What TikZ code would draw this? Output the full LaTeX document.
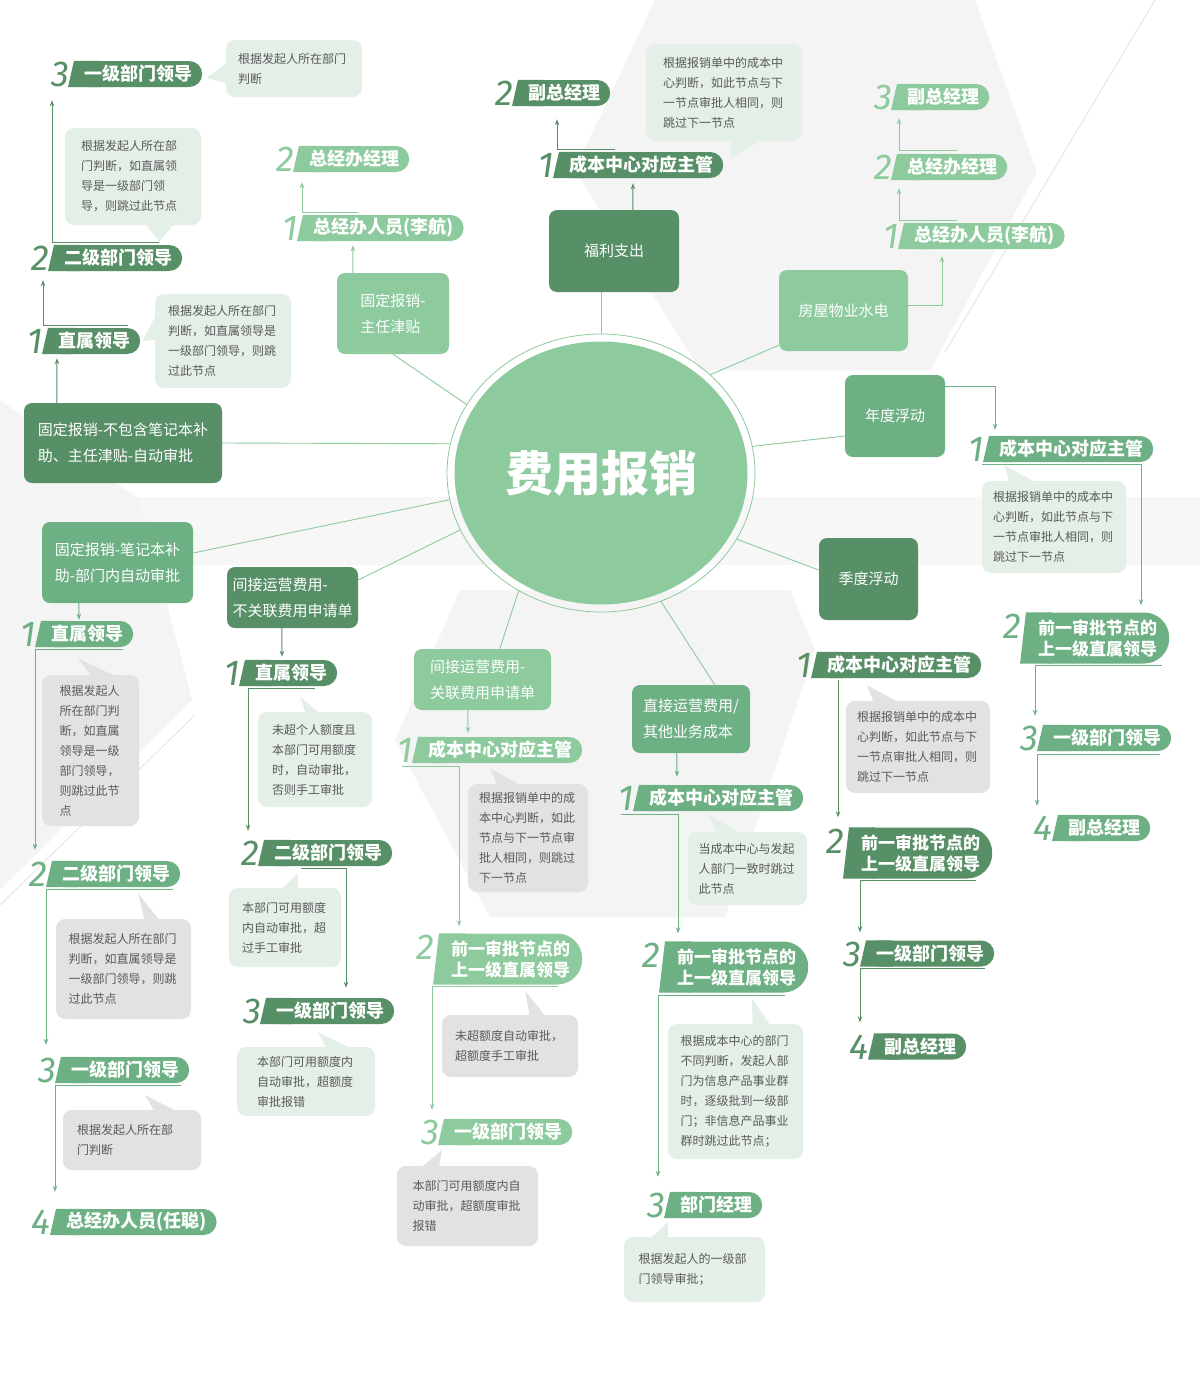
\documentclass[tikz,border=0pt]{standalone}
\usepackage{fontspec}
\setmainfont{Noto Sans CJK SC}
\newfontfamily\numfont{Fira Sans}
\usepackage{xcolor}
\usepackage{tikz}
\usetikzlibrary{positioning, arrows.meta, shapes.geometric, calc, backgrounds}
\pgfdeclarelayer{deco}
\pgfsetlayers{deco,background,main}
\definecolor{gdark}{HTML}{578F66}
\definecolor{gmid}{HTML}{6DB083}
\definecolor{glight}{HTML}{8DCA9D}
\definecolor{notegreen}{HTML}{E4EFE7}
\definecolor{notegray}{HTML}{E2E2E2}
\definecolor{notetext}{HTML}{5A5A5A}
\definecolor{bggray}{HTML}{F4F4F4}
\definecolor{bandgray}{HTML}{F8F7F8}
\definecolor{bgline}{HTML}{E6E6E6}
\tikzset{
  ring/.style      = {ellipse, draw=glight, line width=0.8pt, minimum width=308pt,
                      minimum height=278pt, inner sep=0pt, outer sep=0pt},
  core/.style      = {ellipse, fill=glight, minimum width=293pt, minimum height=263pt,
                      inner sep=0pt, text=white, font=\bfseries\fontsize{48}{48}\selectfont},
  cat/.style       = {rectangle, rounded corners=8pt, inner sep=0pt, align=left,
                      text=white, font=\fontsize{15}{26}\selectfont},
  tag/.style       = {rectangle, rounded corners=13pt, minimum height=26pt,
                      inner xsep=10pt, inner ysep=0pt, anchor=west, text=white,
                      font=\bfseries\fontsize{18}{22}\selectfont},
  tagtwo/.style    = {rounded corners=25pt, minimum height=51pt, inner xsep=12pt,
                      align=left, font=\bfseries\fontsize{17}{21}\selectfont},
  num/.style       = {inner sep=0pt, anchor=base east,
                      font=\numfont\itshape\fontsize{36}{36}\selectfont},
  note/.style      = {rectangle, rounded corners=9pt, inner sep=0pt, align=left,
                      text=notetext, font=\fontsize{12}{20}\selectfont},
  greennote/.style = {note, fill=notegreen},
  graynote/.style  = {note, fill=notegray},
  spoke/.style     = {draw=glight, line width=0.9pt},
  arr/.style       = {-{Stealth[length=6pt,width=4.5pt]}, line width=1pt},
  decoline/.style  = {draw=bgline, line width=1pt},
}
% banner: [extra] name, west point, colour, number, text
\newcommand\apprv[6][]{%
  \node[tag, fill=#4, #1] (#2) at (#3) {#6};
  \begin{pgfonlayer}{background}
    \fill[#4] ($(#2.south west)+(-6,0)$) -- (#2.north west)
      -- ($(#2.north west)+(26,0)$) -- ($(#2.south west)+(26,0)$) -- cycle;
  \end{pgfonlayer}
  \node[num, text=#4] (#2-n) at ($(#2.north west)+(-5,26)$) {#5};
}

\begin{document}
\begin{tikzpicture}[x=1pt, y=-1pt]
  \useasboundingbox (0,0) rectangle (1200,1392);

  % backdrop
  \begin{pgfonlayer}{deco}
    \fill[white] (0,0) rectangle (1200,1392);
    \fill[bandgray] (0,497) rectangle (1200,565);
    \fill[bggray] (655,0) -- (975,0) -- (1037,172) -- (930,370) -- (700,370) -- (575,170) -- cycle;
    \fill[bggray] (0,400) -- (140,500) -- (192,700) -- (0,890) -- cycle;
    \fill[bggray] (460,590) -- (790,590) -- (815,650) -- (725,917) -- (490,917) -- (395,740) -- cycle;
    \draw[decoline] (1155,0) -- (945,352);
    \draw[decoline] (195,715) -- (0,905);
  \end{pgfonlayer}

  % hub
  \node[ring] (hub) at (601,473) {};
  \node[core] (core) at (hub.center) {费用报销};

  % categories
  \node[cat, fill=gdark, minimum width=130pt, minimum height=82pt] (fuli) at (614,251) {福利支出};
  \node[cat, fill=glight, minimum width=112pt, minimum height=81pt] (zrjt) at (393,313.5) {固定报销-\\主任津贴};
  \node[cat, fill=glight, minimum width=129pt, minimum height=81pt] (fwsd) at (843.5,310.5) {房屋物业水电};
  \node[cat, fill=gdark, minimum width=198pt, minimum height=80pt] (bbh) at (123,443) {固定报销-不包含笔记本补\\助、主任津贴-自动审批};
  \node[cat, fill=gmid, minimum width=100pt, minimum height=82pt] (ndfd) at (895,416) {年度浮动};
  \node[cat, fill=gmid, minimum width=151pt, minimum height=81pt] (bjb) at (117.5,562.5) {固定报销-笔记本补\\助-部门内自动审批};
  \node[cat, fill=gdark, minimum width=131pt, minimum height=61pt] (bgl) at (292.5,597.5) {间接运营费用-\\不关联费用申请单};
  \node[cat, fill=gdark, minimum width=99pt, minimum height=82pt] (jdfd) at (868.5,579) {季度浮动};
  \node[cat, fill=glight, minimum width=137pt, minimum height=61pt] (gl) at (482.5,679.5) {间接运营费用-\\关联费用申请单};
  \node[cat, fill=gmid, minimum width=118pt, minimum height=68pt] (zjyy) at (691,719) {直接运营费用/\\其他业务成本};

  \draw[spoke] (hub.90) -- (hub.90 |- fuli.south);
  \draw[spoke] (hub.42) -- ([yshift=6pt]fwsd.south west);
  \draw[spoke] (hub.10) -- ([yshift=-20pt]ndfd.west);
  \draw[spoke] (hub.-26) -- ([yshift=9pt]jdfd.west);
  \draw[spoke] (hub.-65) -- ([xshift=83pt]zjyy.north west);
  \draw[spoke] (hub.235) -- ([xshift=86pt]gl.north west);
  \draw[spoke] (hub.202) -- ([yshift=17.5pt]bgl.east);
  \draw[spoke] (hub.190) -- ([yshift=9.5pt]bjb.east);
  \draw[spoke] (hub.169) -- (bbh.east);
  \draw[spoke] (hub.153) -- (zrjt.south);

  % chain A
  \apprv{a1}{48,341}{gdark}{1}{直属领导}
  \apprv{a2}{54,258}{gdark}{2}{二级部门领导}
  \apprv{a3}{74,74}{gdark}{3}{一级部门领导}
  \draw[arr, gdark] ([xshift=33pt]bbh.north west) -- ([xshift=9pt,yshift=-4pt]a1.south west);
  \draw[arr, gdark] ([xshift=-12pt,yshift=2pt]a1.north east) -| ([xshift=-11pt,yshift=-9pt]a2.south west);
  \draw[arr, gdark] ([xshift=-23pt,yshift=2pt]a2.north east) -| ([xshift=-22pt,yshift=-13pt]a3.south west);
  \node[greennote, minimum width=136pt, minimum height=57pt, text width=112pt] (a3b) at (294,68.5) {根据发起人所在部门\\判断};
  \fill[notegreen] ($(a3b.north west)+(2,22)$) -- ($(a3.east)+(4,4)$) -- ($(a3b.north west)+(2,44)$) -- cycle;
  \node[greennote, minimum width=136pt, minimum height=97pt, text width=104pt] (a2b) at (133,176.5) {根据发起人所在部\\门判断，如直属领\\导是一级部门领\\导，则跳过此节点};
  \fill[notegreen] ($(a2b.south west)+(80,-2)$) -- ($(a2.north east)+(-23,-3)$) -- ($(a2b.south west)+(110,-2)$) -- cycle;
  \node[greennote, minimum width=136pt, minimum height=94pt, text width=110pt] (a1b) at (223,341) {根据发起人所在部门\\判断，如直属领导是\\一级部门领导，则跳\\过此节点};
  \fill[notegreen] ($(a1b.north west)+(2,20)$) -- ($(a1.east)+(2,0)$) -- ($(a1b.north west)+(2,46)$) -- cycle;

  % chain B
  \apprv{b1}{303,228}{glight}{1}{总经办人员(李航)}
  \apprv{b2}{299,159}{glight}{2}{总经办经理}
  \draw[arr, glight] ([xshift=16pt]zrjt.north west) -- ([xshift=50pt,yshift=-4pt]b1.south west);
  \draw[arr, glight] ([xshift=55pt,yshift=2pt]b1.north west) -| ([xshift=3pt,yshift=-10pt]b2.south west);

  % chain C
  \apprv{c1}{559,165}{gdark}{1}{成本中心对应主管}
  \apprv{c2}{518,93}{gdark}{2}{副总经理}
  \draw[arr, gdark] ([xshift=84pt]fuli.north west) -- ([xshift=74pt,yshift=-5pt]c1.south west);
  \draw[arr, gdark] ([xshift=56pt,yshift=2pt]c1.north west) -| ([xshift=39pt,yshift=-13pt]c2.south west);
  \node[greennote, minimum width=156pt, minimum height=97pt, text width=122pt] (c1b) at (724,92.5) {根据报销单中的成本中\\心判断，如此节点与下\\一节点审批人相同，则\\跳过下一节点};
  \fill[notegreen] ($(c1b.south west)+(85,-2)$) -- ($(c1.north east)+(7,6)$) -- ($(c1b.south west)+(118,-2)$) -- cycle;

  % chain D
  \apprv{d1}{904,236}{glight}{1}{总经办人员(李航)}
  \apprv{d2}{897,167}{glight}{2}{总经办经理}
  \apprv{d3}{897,97}{glight}{3}{副总经理}
  \draw[arr, glight] ([yshift=5.5pt]fwsd.east) -| ([xshift=38pt,yshift=-7pt]d1.south west);
  \draw[arr, glight] ([xshift=53pt,yshift=2pt]d1.north west) -| ([xshift=2pt,yshift=-8pt]d2.south west);
  \draw[arr, glight] ([xshift=60pt,yshift=3pt]d2.north west) -| ([xshift=2pt,yshift=-8pt]d3.south west);

  % chain E
  \apprv{e1}{989,449}{gmid}{1}{成本中心对应主管}
  \apprv[tagtwo]{e2}{1026,638}{gmid}{2}{前一审批节点的\\上一级直属领导}
  \apprv{e3}{1043,738}{gmid}{3}{一级部门领导}
  \apprv{e4}{1058,828}{gmid}{4}{副总经理}
  \draw[arr, gmid] ([yshift=-12pt]ndfd.north east) -| ([xshift=6pt,yshift=6pt]e1.north west);
  \draw[arr, gmid] ([xshift=-7pt,yshift=-2pt]e1.south west) -| ([xshift=115pt,yshift=7pt]e2.north west);
  \draw[arr, gmid] ([xshift=136pt,yshift=-2pt]e2.south west) -| ([xshift=-8pt,yshift=9pt]e3.north west);
  \draw[arr, gmid] ([xshift=117pt,yshift=-3pt]e3.south west) -| ([xshift=-21pt,yshift=9pt]e4.north west);
  \node[greennote, minimum width=144pt, minimum height=92pt, text width=122pt] (e1b) at (1054,527) {根据报销单中的成本中\\心判断，如此节点与下\\一节点审批人相同，则\\跳过下一节点};
  \fill[notegreen] ($(e1b.north west)+(28,2)$) -- ($(e1.south west)+(15,3)$) -- ($(e1b.north west)+(55,2)$) -- cycle;

  % chain F
  \apprv{f1}{817,665}{gdark}{1}{成本中心对应主管}
  \apprv[tagtwo]{f2}{849,853}{gdark}{2}{前一审批节点的\\上一级直属领导}
  \apprv{f3}{866,953.5}{gdark}{3}{一级部门领导}
  \apprv{f4}{874,1046.5}{gdark}{4}{副总经理}
  \draw[arr, gdark] ([xshift=21pt,yshift=-2pt]f1.south west) -- ([xshift=-11pt,yshift=10pt]f2.north west);
  \draw[arr, gdark] ([xshift=-16pt,yshift=-2pt]f2.south east) -| ([xshift=-6pt,yshift=8pt]f3.north west);
  \draw[arr, gdark] ([xshift=-9pt,yshift=-2pt]f3.south east) -| ([xshift=-14pt,yshift=11pt]f4.north west);
  \node[graynote, minimum width=144pt, minimum height=92pt, text width=122pt] (f1b) at (918,747) {根据报销单中的成本中\\心判断，如此节点与下\\一节点审批人相同，则\\跳过下一节点};
  \fill[notegray] ($(f1b.north west)+(28,2)$) -- ($(f1.south west)+(50,7)$) -- ($(f1b.north west)+(54,2)$) -- cycle;

  % chain G
  \apprv{g1}{639,798}{gmid}{1}{成本中心对应主管}
  \apprv[tagtwo]{g2}{665,967}{gmid}{2}{前一审批节点的\\上一级直属领导}
  \apprv{g3}{670,1205}{gmid}{3}{部门经理}
  \draw[arr, gmid] ([xshift=45pt]zjyy.south west) -- ([xshift=38pt,yshift=8pt]g1.north west);
  \draw[arr, gmid] ([xshift=-18pt,yshift=-3pt]g1.south west) -| ([xshift=13pt,yshift=8pt]g2.north west);
  \draw[arr, gmid] ([xshift=120pt,yshift=-2.5pt]g2.south west) -| ([xshift=-12pt,yshift=15pt]g3.north west);
  \node[greennote, minimum width=119pt, minimum height=73pt, text width=98pt] (g1b) at (747.5,868.5) {当成本中心与发起\\人部门一致时跳过\\此节点};
  \fill[notegreen] ($(g1b.north west)+(30,2)$) -- ($(g1.south west)+(70,4)$) -- ($(g1b.north west)+(54,2)$) -- cycle;
  \node[greennote, minimum width=135pt, minimum height=135pt, text width=110pt] (g2b) at (735.5,1091.5) {根据成本中心的部门\\不同判断，发起人部\\门为信息产品事业群\\时，逐级批到一级部\\门；非信息产品事业\\群时跳过此节点；};
  \fill[notegreen] ($(g2b.north west)+(85,2)$) -- ($(g2.south west)+(87,6)$) -- ($(g2b.north west)+(103,2)$) -- cycle;
  \node[greennote, minimum width=141pt, minimum height=65pt, text width=112pt] (g3b) at (694.5,1269.5) {根据发起人的一级部\\门领导审批；};
  \fill[notegreen] ($(g3b.north west)+(26,2)$) -- ($(g3.south west)+(-2,4)$) -- ($(g3b.north west)+(44,2)$) -- cycle;

  % chain H
  \apprv{h1}{418,750}{glight}{1}{成本中心对应主管}
  \apprv[tagtwo]{h2}{439,959}{glight}{2}{前一审批节点的\\上一级直属领导}
  \apprv{h3}{444,1132}{glight}{3}{一级部门领导}
  \draw[arr, glight] ([xshift=54pt]gl.south west) -- ([xshift=50pt,yshift=4pt]h1.north west);
  \draw[arr, glight] ([xshift=-16pt,yshift=-3pt]h1.south west) -| ([xshift=20pt,yshift=7pt]h2.north west);
  \draw[arr, glight] ([xshift=119pt,yshift=-1.5pt]h2.south west) -| ([xshift=-12pt,yshift=9pt]h3.north west);
  \node[graynote, minimum width=120pt, minimum height=108pt, text width=98pt] (h1b) at (528,838) {根据报销单中的成\\本中心判断，如此\\节点与下一节点审\\批人相同，则跳过\\下一节点};
  \fill[notegray] ($(h1b.north west)+(30,2)$) -- ($(h1.south west)+(72,5)$) -- ($(h1b.north west)+(54,2)$) -- cycle;
  \node[graynote, minimum width=136pt, minimum height=62pt, text width=110pt] (h2b) at (510,1046) {未超额度自动审批，\\超额度手工审批};
  \fill[notegray] ($(h2b.north west)+(88,2)$) -- ($(h2.south west)+(86,6)$) -- ($(h2b.north west)+(104,2)$) -- cycle;
  \node[graynote, minimum width=141pt, minimum height=80pt, text width=110pt] (h3b) at (467.5,1206) {本部门可用额度内自\\动审批，超额度审批\\报错};
  \fill[notegray] ($(h3b.north west)+(24,2)$) -- ($(h3.south west)+(-2,5)$) -- ($(h3b.north west)+(42,2)$) -- cycle;

  % chain I
  \apprv{i1}{245,673}{gdark}{1}{直属领导}
  \apprv{i2}{264,853}{gdark}{2}{二级部门领导}
  \apprv{i3}{266,1011}{gdark}{3}{一级部门领导}
  \draw[arr, gdark] ([xshift=55pt]bgl.south west) -- ([xshift=37pt,yshift=3pt]i1.north west);
  \draw[arr, gdark] ([xshift=70pt,yshift=-2pt]i1.south west) -| ([xshift=-16pt,yshift=9pt]i2.north west);
  \draw[arr, gdark] ([xshift=37pt,yshift=-2pt]i2.south west) -| ([xshift=80pt,yshift=10pt]i3.north west);
  \node[greennote, minimum width=114pt, minimum height=95pt, text width=86pt] (i1b) at (315,759.5) {未超个人额度且\\本部门可用额度\\时，自动审批，\\否则手工审批};
  \fill[notegreen] ($(i1b.north west)+(48,2)$) -- ($(i1.south west)+(55,10)$) -- ($(i1b.north west)+(62,2)$) -- cycle;
  \node[greennote, minimum width=112pt, minimum height=79pt, text width=86pt] (i2b) at (285,927.5) {本部门可用额度\\内自动审批，超\\过手工审批};
  \fill[notegreen] ($(i2b.north west)+(52,2)$) -- ($(i2.south west)+(34,7)$) -- ($(i2b.north west)+(69,2)$) -- cycle;
  \node[greennote, minimum width=138pt, minimum height=69pt, text width=98pt] (i3b) at (306,1081.5) {本部门可用额度内\\自动审批，超额度\\审批报错};
  \fill[notegreen] ($(i3b.north west)+(90,2)$) -- ($(i3.south west)+(52,8)$) -- ($(i3b.north west)+(115,2)$) -- cycle;

  % chain J
  \apprv{j1}{41,634}{gmid}{1}{直属领导}
  \apprv{j2}{52,874}{gmid}{2}{二级部门领导}
  \apprv{j3}{61,1070}{gmid}{3}{一级部门领导}
  \apprv{j4}{56,1222}{gmid}{4}{总经办人员(任聪)}
  \draw[arr, gmid] ([xshift=37pt]bjb.south west) -- ([xshift=38pt,yshift=1pt]j1.north west);
  \draw[arr, gmid] ([xshift=82pt,yshift=-2pt]j1.south west) -| ([xshift=-17pt,yshift=11pt]j2.north west);
  \draw[arr, gmid] ([xshift=121pt,yshift=-2pt]j2.south west) -| ([xshift=-15pt,yshift=12pt]j3.north west);
  \draw[arr, gmid] ([xshift=120pt,yshift=-2pt]j3.south west) -| ([xshift=-1pt,yshift=17pt]j4.north west);
  \node[graynote, minimum width=97pt, minimum height=151pt, text width=62pt] (j1b) at (90.5,750.5) {根据发起人\\所在部门判\\断，如直属\\领导是一级\\部门领导，\\则跳过此节\\点};
  \fill[notegray] ($(j1b.north west)+(50,2)$) -- ($(j1.south west)+(37,11)$) -- ($(j1b.north west)+(75,2)$) -- cycle;
  \node[graynote, minimum width=135pt, minimum height=100pt, text width=110pt] (j2b) at (123.5,969) {根据发起人所在部门\\判断，如直属领导是\\一级部门领导，则跳\\过此节点};
  \fill[notegray] ($(j2b.north west)+(89,2)$) -- ($(j2.south west)+(86,6)$) -- ($(j2b.north west)+(104,2)$) -- cycle;
  \node[graynote, minimum width=138pt, minimum height=60pt, text width=110pt] (j3b) at (132,1140) {根据发起人所在部\\门判断};
  \fill[notegray] ($(j3b.north west)+(92,2)$) -- ($(j3.south west)+(84,12)$) -- ($(j3b.north west)+(115,2)$) -- cycle;

\end{tikzpicture}
\end{document}
